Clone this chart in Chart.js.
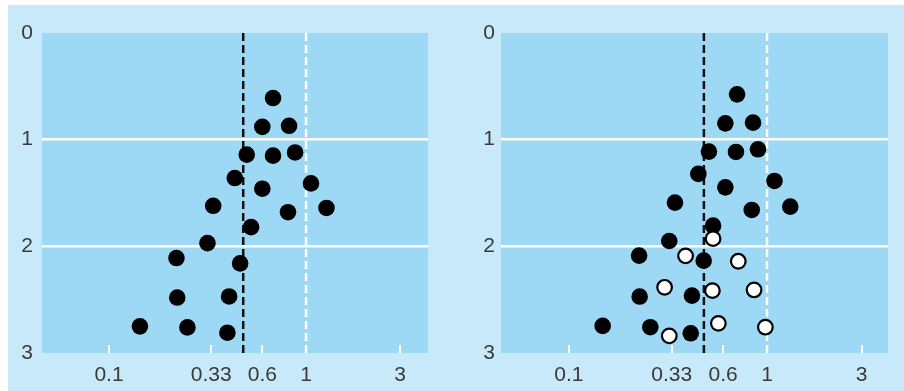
<!DOCTYPE html>
<html>
<head>
<meta charset="utf-8">
<script src="https://cdn.jsdelivr.net/npm/chart.js@4.4.1/dist/chart.umd.min.js"></script>
<style>
  html, body { margin: 0; padding: 0; background: #ffffff; width: 904px; height: 391px; overflow: hidden; }
  #bg { position: absolute; left: 8px; top: 5px; width: 896px; height: 386px; background: #c8e9f9; }
  .panel { position: absolute; top: 0; width: 452px; height: 391px; }
  #p1 { left: 0; }
  #p2 { left: 452px; }
</style>
</head>
<body>
<div id="bg"></div>
<div class="panel" id="p1"><canvas id="c1" width="452" height="391"></canvas></div>
<div class="panel" id="p2"><canvas id="c2" width="452" height="391"></canvas></div>
<script>
// ---- Data ----
const xTickValues = [0.1, 0.33, 0.6, 1, 3];
const xTickLabels = ["0.1", "0.33", "0.6", "1", "3"];
const yTickValues = [0, 1, 2, 3];
const yTickLabels = ["0", "1", "2", "3"];
const yGridValues = [1, 2];

const pooledEstimate = 0.48;   // black dashed line
const nullEffect = 1;          // white dashed line

// Left panel: observed studies (odds ratio, standard error)
const leftOR = [0.68, 0.60, 0.82, 0.50, 0.68, 0.88, 0.435, 1.06, 0.60, 0.338, 0.81, 1.27, 0.526, 0.316, 0.220, 0.463, 0.222, 0.407, 0.1435, 0.25, 0.399];
const leftSE = [0.61, 0.88, 0.87, 1.14, 1.15, 1.12, 1.36, 1.41, 1.46, 1.62, 1.68, 1.64, 1.82, 1.97, 2.11, 2.16, 2.48, 2.47, 2.75, 2.76, 2.81];

// Right panel: observed studies
const rightOR = [0.706, 0.616, 0.85, 0.509, 0.697, 0.90, 0.45, 1.09, 0.616, 0.343, 0.837, 1.31, 0.534, 0.321, 0.226, 0.479, 0.2275, 0.418, 0.148, 0.2575, 0.412];
const rightSE = [0.575, 0.847, 0.84, 1.112, 1.115, 1.09, 1.321, 1.387, 1.447, 1.59, 1.659, 1.628, 1.806, 1.95, 2.087, 2.134, 2.471, 2.462, 2.746, 2.758, 2.815];
// Right panel: imputed (filled) studies
const filledOR = [0.534, 0.388, 0.716, 0.304, 0.53, 0.86, 0.568, 0.981, 0.321];
const filledSE = [1.928, 2.09, 2.14, 2.384, 2.415, 2.409, 2.722, 2.758, 2.84];

// ---- Styling ----
const FONT = "'Liberation Sans', Arial, sans-serif";
const TEXT = '#3a3a3a';
const PLOT_BG = '#9dd9f5';

const zip = (xs, ys) => xs.map((x, i) => ({ x: x, y: ys[i] }));

const plotBgPlugin = {
  id: 'plotBg',
  beforeDraw(chart) {
    const a = chart.chartArea, ctx = chart.ctx;
    ctx.save();
    ctx.fillStyle = PLOT_BG;
    ctx.fillRect(a.left, a.top, a.right - a.left, a.bottom - a.top);
    ctx.restore();
  },
  beforeDatasetsDraw(chart) {
    // small white tick marks inside the plot at the bottom
    const a = chart.chartArea, ctx = chart.ctx, xs = chart.scales.x;
    ctx.save();
    ctx.strokeStyle = '#ffffff';
    ctx.lineWidth = 2;
    xTickValues.forEach(v => {
      const px = Math.round(xs.getPixelForValue(v));
      ctx.beginPath();
      ctx.moveTo(px, a.bottom - 8);
      ctx.lineTo(px, a.bottom);
      ctx.stroke();
    });
    ctx.restore();
  }
};

function makeChart(canvasId, cfg) {
  const datasets = [
    {
      data: [{ x: nullEffect, y: 0 }, { x: nullEffect, y: 3 }],
      showLine: true, borderColor: '#ffffff', borderWidth: 2.5, borderDash: [8, 4],
      pointRadius: 0, order: 10
    },
    {
      data: [{ x: pooledEstimate, y: 0 }, { x: pooledEstimate, y: 3 }],
      showLine: true, borderColor: '#111111', borderWidth: 2.5, borderDash: [8, 4],
      pointRadius: 0, order: 9
    },
    {
      data: zip(cfg.or, cfg.se),
      pointRadius: 8.3, pointBackgroundColor: '#000000', pointBorderWidth: 0,
      borderColor: '#000000', order: 5
    }
  ];
  if (cfg.filledOR) {
    datasets.push({
      data: zip(cfg.filledOR, cfg.filledSE),
      pointRadius: 7.3, pointBackgroundColor: '#ffffff', pointBorderWidth: 2.2,
      pointBorderColor: '#000000', borderColor: '#000000', order: 1
    });
  }
  return new Chart(document.getElementById(canvasId), {
    type: 'scatter',
    data: { datasets: datasets },
    plugins: [plotBgPlugin],
    options: {
      responsive: false,
      animation: false,
      events: [],
      layout: { padding: { left: 0, right: cfg.padRight, top: 33, bottom: 0 } },
      plugins: { legend: { display: false }, tooltip: { enabled: false } },
      scales: {
        x: {
          type: 'logarithmic',
          min: cfg.xmin, max: cfg.xmax,
          afterBuildTicks: s => { s.ticks = xTickValues.map(v => ({ value: v })); },
          afterFit: s => { s.height = 38; },
          ticks: {
            autoSkip: false, maxRotation: 0, padding: 10,
            color: TEXT, font: { family: FONT, size: 21 },
            callback: (v) => { const i = xTickValues.indexOf(v); return i >= 0 ? xTickLabels[i] : ''; }
          },
          grid: { display: false, drawTicks: false },
          border: { display: false }
        },
        y: {
          type: 'linear', reverse: true, min: 0, max: 3,
          afterBuildTicks: s => { s.ticks = yTickValues.map(v => ({ value: v })); },
          afterFit: s => { s.width = cfg.yWidth; },
          ticks: {
            padding: cfg.yPad, color: TEXT, font: { family: FONT, size: 21 },
            callback: (v) => { const i = yTickValues.indexOf(v); return i >= 0 ? yTickLabels[i] : ''; }
          },
          grid: {
            drawTicks: false, lineWidth: 2.5,
            color: ctx => (ctx.tick && yGridValues.includes(ctx.tick.value)) ? '#ffffff' : 'rgba(0,0,0,0)'
          },
          border: { display: false }
        }
      }
    }
  });
}

makeChart('c1', { or: leftOR, se: leftSE, xmin: 0.0457, xmax: 4.16, padRight: 24, yWidth: 42, yPad: 9 });
makeChart('c2', { or: rightOR, se: rightSE, filledOR: filledOR, filledSE: filledSE, xmin: 0.0454, xmax: 4.08, padRight: 16, yWidth: 49, yPad: 6 });
</script>
</body>
</html>
